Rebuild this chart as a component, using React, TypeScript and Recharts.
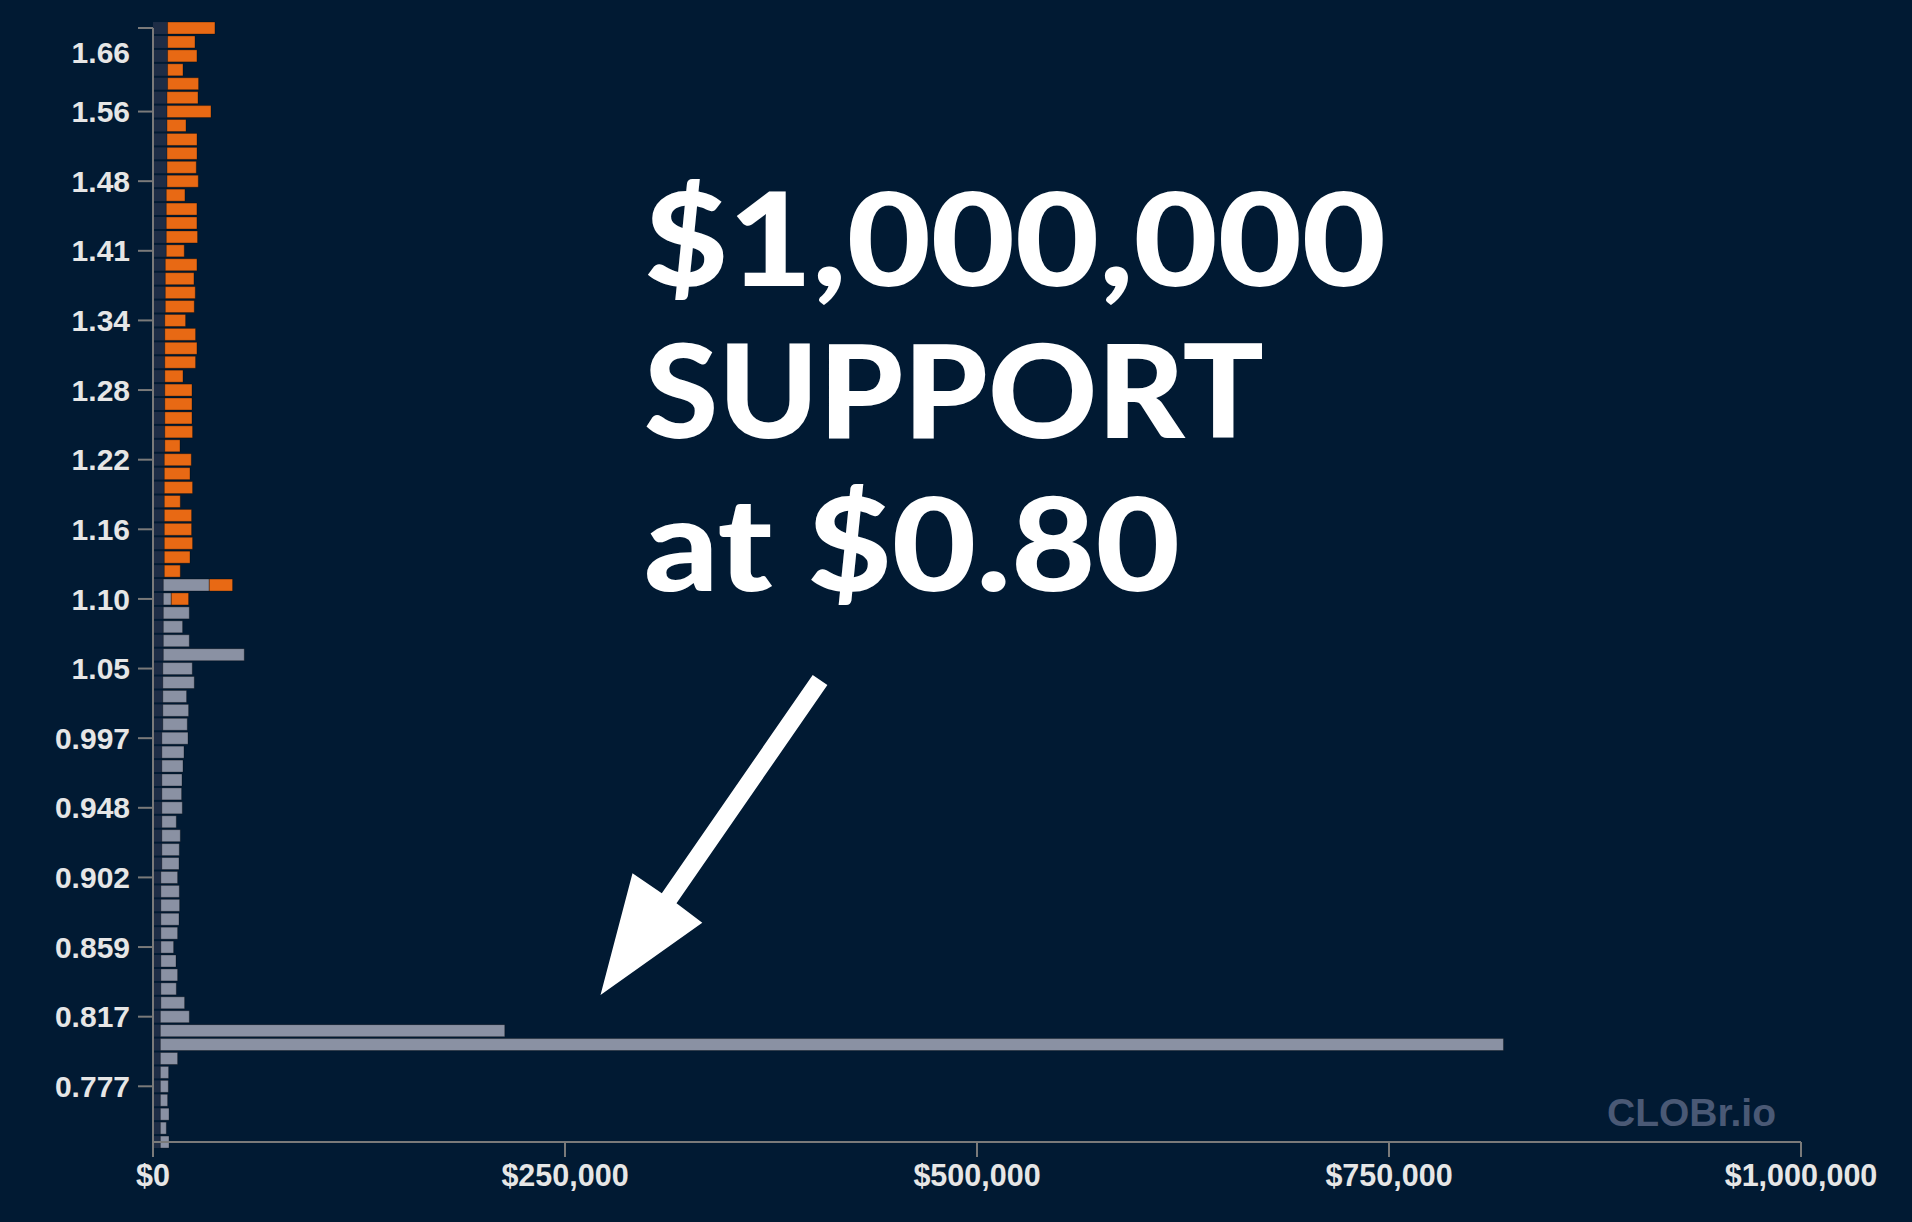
import { BarChart, Bar, XAxis, YAxis } from "recharts";

// order book depth per price row, top row = highest price
const baseDepth = [
  8850, 8850, 8850, 8850, 8850, 8500, 8500, 8500, 8500, 8500,
  8500, 8500, 8050, 8050, 8050, 8050, 8050, 7450, 7450, 7450,
  7450, 7150, 7150, 7150, 7150, 7150, 7150, 7150, 7150, 7150,
  7150, 6850, 6850, 6850, 6850, 6850, 6850, 6850, 6850, 6850,
  6250, 6250, 6250, 6250, 6250, 6250, 5950, 5950, 5950, 5950,
  5950, 5350, 5350, 5350, 5350, 5350, 5350, 5350, 5350, 5350,
  5350, 4750, 4750, 4750, 4750, 4750, 4750, 4750, 4750, 4750,
  4750, 4450, 4450, 4450, 4450, 4450, 4450, 4450, 4450, 4450,
  4450,
];

const bidDepth = [
  0, 0, 0, 0, 0, 0, 0, 0, 0, 0,
  0, 0, 0, 0, 0, 0, 0, 0, 0, 0,
  0, 0, 0, 0, 0, 0, 0, 0, 0, 0,
  0, 0, 0, 0, 0, 0, 0, 0, 0, 0,
  27900, 4850, 15770, 11710, 15770, 49130, 17890, 19100, 14430, 15650,
  14860, 15890, 13460, 12860, 12250, 12010, 12430, 8790, 11220, 10610,
  10430, 10190, 11220, 11400, 11040, 10190, 7760, 9220, 10190, 9400,
  14430, 17590, 209000, 815000, 10490, 5030, 4850, 4430, 5280, 3640,
  5280,
];

const askDepth = [
  28750, 16620, 17830, 9340, 18800, 18800, 26690, 11520, 18200, 18200,
  17770, 18980, 11340, 18620, 18620, 18980, 10920, 19230, 17410, 18200,
  17590, 12620, 18680, 19530, 18680, 11040, 16500, 16500, 16500, 16860,
  9220, 16380, 15590, 17160, 9700, 16560, 16560, 17160, 15590, 9700,
  14130, 10490, 0, 0, 0, 0, 0, 0, 0, 0,
  0, 0, 0, 0, 0, 0, 0, 0, 0, 0,
  0, 0, 0, 0, 0, 0, 0, 0, 0, 0,
  0, 0, 0, 0, 0, 0, 0, 0, 0, 0,
  0,
];

const tickRows = [0, 6, 11, 16, 21, 26, 31, 36, 41, 46, 51, 56, 61, 66, 71, 76];
const tickLabels = [
  "1.66", "1.56", "1.48", "1.41", "1.34", "1.28", "1.22", "1.16",
  "1.10", "1.05", "0.997", "0.948", "0.902", "0.859", "0.817", "0.777",
];
const xTicks = [0, 250000, 500000, 750000, 1000000];

const data = baseDepth.map((base, i) => ({
  row: i,
  base,
  bids: bidDepth[i],
  asks: askDepth[i],
}));

const axisFont = "'Liberation Sans', Arial, Helvetica, sans-serif";

function PriceTick({ x, y, payload }: any) {
  const idx = tickRows.indexOf(payload.value);
  const label = idx >= 0 ? tickLabels[idx] : "";
  return (
    <text
      x={x}
      y={payload.value === 0 ? y + 24 : y}
      dy="0.355em"
      textAnchor="end"
      fill="#e6e6e6"
      fontSize={30}
      fontWeight={700}
      fontFamily={axisFont}
    >
      {label}
    </text>
  );
}

export default function App() {
  return (
    <div
      style={{
        position: "absolute",
        top: 0,
        left: 0,
        width: 1912,
        height: 1222,
        background: "#011a33",
        overflow: "hidden",
      }}
    >
      <BarChart
        width={1912}
        height={1222}
        data={data}
        layout="vertical"
        margin={{ top: 28, right: 111, bottom: 20, left: 0 }}
      >
        <XAxis
          type="number"
          domain={[0, 1000000]}
          ticks={xTicks}
          interval={0}
          height={60}
          tickSize={15}
          tickMargin={7}
          axisLine={{ stroke: "#7a7a7a", strokeWidth: 2 }}
          tickLine={{ stroke: "#7a7a7a", strokeWidth: 2 }}
          tickFormatter={(v: number) => `$${v.toLocaleString("en-US")}`}
          tick={{ fill: "#e6e6e6", fontSize: 30.5, fontWeight: 700, fontFamily: axisFont }}
        />
        <YAxis
          type="number"
          dataKey="row"
          domain={[0, 80]}
          ticks={tickRows}
          interval={0}
          width={153}
          tickSize={15}
          tickMargin={8}
          axisLine={{ stroke: "#7a7a7a", strokeWidth: 2 }}
          tickLine={{ stroke: "#7a7a7a", strokeWidth: 2 }}
          tick={<PriceTick />}
        />
        <Bar dataKey="base" stackId="d" fill="#1e2d46" barSize={12} isAnimationActive={false} />
        <Bar dataKey="bids" stackId="d" fill="#8a91a3" stroke="rgba(0,0,0,0.3)" strokeWidth={1} barSize={12} isAnimationActive={false} />
        <Bar dataKey="asks" stackId="d" fill="#e86914" stroke="rgba(0,0,0,0.3)" strokeWidth={1} barSize={12} isAnimationActive={false} />
      </BarChart>
      <svg
        width={1912}
        height={1222}
        style={{ position: "absolute", top: 0, left: 0, pointerEvents: "none" }}
      >
        <g fill="#ffffff" fontFamily="Lato, 'Open Sans', sans-serif" fontWeight={900} fontSize={130}>
          <text x={644} y={286} textLength={742} lengthAdjust="spacingAndGlyphs">$1,000,000</text>
          <text x={644} y={438} textLength={620} lengthAdjust="spacingAndGlyphs">SUPPORT</text>
          <text x={644} y={591} textLength={536} lengthAdjust="spacingAndGlyphs">at $0.80</text>
        </g>
        <polygon
          fill="#ffffff"
          points="812.7,675 827.4,685 676.5,903.3 702.3,922.7 600.5,995 632.5,873.3 661.8,893.3"
        />
        <text x={1607} y={1126} fill="#4a5975" fontSize={39} fontWeight={700} fontFamily={axisFont}>
          CLOBr.io
        </text>
      </svg>
    </div>
  );
}
